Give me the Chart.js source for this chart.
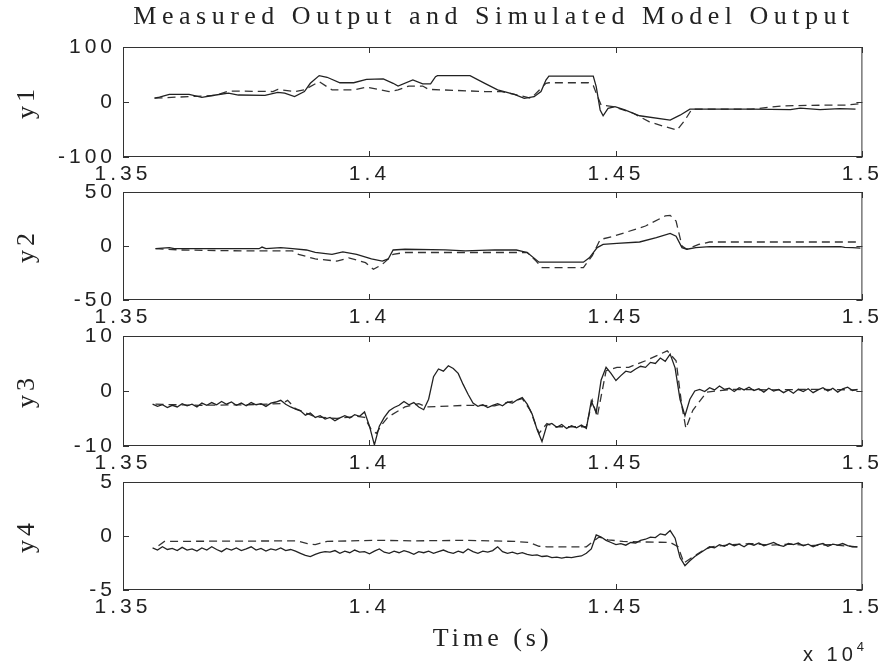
<!DOCTYPE html>
<html>
<head>
<meta charset="utf-8">
<script src="https://cdn.jsdelivr.net/npm/chart.js@4.4.0/dist/chart.umd.min.js"></script>
<style>
  html, body { margin: 0; padding: 0; background: #fff; }
  #wrap { position: relative; width: 890px; height: 668px; overflow: hidden; }
  #wrap canvas { position: absolute; left: 0; }
  #title { position: absolute; left: 494px; top: 1px; transform: translateX(-50%); white-space: nowrap;
           font-family: "Liberation Serif", serif; font-size: 26px; letter-spacing: 5.5px; color: #222; }
  #mult { position: absolute; left: 803px; top: 641px; white-space: nowrap;
          font-family: "Liberation Sans", sans-serif; font-size: 20px; letter-spacing: 4px; color: #222; }
  #mult sup { font-size: 13px; position: relative; top: -2px; }
</style>
</head>
<body>
<div id="wrap">
  <canvas id="c1" width="890" height="170" style="top:17px"></canvas>
  <canvas id="c2" width="890" height="168" style="top:162px"></canvas>
  <canvas id="c3" width="890" height="170" style="top:306px"></canvas>
  <canvas id="c4" width="890" height="216" style="top:452px"></canvas>
  <div id="title">Measured Output and Simulated Model Output</div>
  <div id="mult">x 10<sup>4</sup></div>
</div>
<script>
// time axis is seconds; tick labels are shown in units of 1e4 s
const xTicks = [13500, 14000, 14500, 15000];

// y1
const y1MeasT = [13564, 13574, 13594, 13634, 13660, 13688, 13714, 13734, 13788, 13814, 13828, 13848, 13868, 13880,
  13898, 13914, 13940, 13968, 13994, 14028, 14048, 14058, 14088, 14108, 14124, 14134, 14138, 14204, 14234, 14260,
  14294, 14314, 14334, 14348, 14358, 14364, 14454, 14460, 14468, 14474, 14484, 14498, 14518, 14548, 14610, 14630,
  14650, 14774, 14854, 14874, 14914, 14954, 14986];
const y1Meas = [7, 9, 14, 14, 8.5, 12.7, 16, 12.7, 12, 17.6, 16, 9.7, 19, 34,
  48, 45, 35, 35, 41, 42, 34, 29, 40, 33, 33, 46, 48, 48, 34, 22,
  14, 6.7, 9.7, 19, 40, 47, 47, 28, -14.5, -25, -11.5, -8.5, -14.5, -25, -33, -24,
  -13, -13, -14, -11, -14, -12, -13];
const y1SimT = [13564, 13688, 13714, 13804, 13814, 13848, 13868, 13898, 13924, 13968, 13994, 14040, 14058, 14080,
  14108, 14120, 14234, 14268, 14294, 14328, 14358, 14364, 14444, 14454, 14460, 14470, 14494, 14534, 14568, 14600,
  14624, 14640, 14654, 14774, 14840, 14894, 14968, 14996];
const y1Sim = [7, 12, 20, 19, 23, 19, 22, 37, 22, 22, 27, 19, 22, 29,
  29, 23, 19, 19, 14, 6.7, 34, 35, 35, 30, 16, -5.5, -8.5, -20, -36, -45,
  -51, -33, -13, -13, -7, -6, -5.5, -3];

// y2
const y2MeasT = [13566, 13594, 13604, 13776, 13782, 13790, 13820, 13844, 13872, 13890, 13924, 13946, 13974, 14004,
  14026, 14038, 14048, 14072, 14154, 14194, 14254, 14298, 14320, 14344, 14434, 14446, 14462, 14474, 14502, 14548,
  14582, 14610, 14622, 14634, 14644, 14662, 14690, 14854, 14956, 14964, 14980, 14996];
const y2Meas = [-2.5, -1.5, -2.5, -2.5, -1, -2.5, -1.5, -2.5, -3.7, -6, -7.7, -5.5, -7.7, -12,
  -14, -12, -3.7, -3, -3.5, -4.5, -3.5, -3.7, -6, -15, -15, -11, -1.5, 1.5, 2.5, 3.7,
  7.7, 11.7, 9, -1.5, -3, -1.5, -0.6, -0.8, -0.6, -1.2, -1.5, -2];
const y2SimT = [13566, 13618, 13754, 13844, 13856, 13890, 13934, 13958, 13992, 14008, 14026, 14048, 14072, 14320,
  14338, 14350, 14434, 14452, 14468, 14492, 14560, 14600, 14610, 14622, 14634, 14644, 14668, 14690, 14996];
const y2Sim = [-2.5, -3.7, -4.6, -4.6, -7.7, -12, -14, -11, -15.4, -21.6, -17, -7.7, -6, -6,
  -14, -20, -20, -9, 6, 8.6, 18.5, 27.8, 28.4, 23, 0, -3, 1.5, 3.7, 3.7];

// y3 and y4 measured, sampled every 10 s from 13560 s to 14990 s
const denseT = [];
for (let t = 13560; t <= 14990; t += 10) denseT.push(t);

const y3Meas = [-2.4, -2.8, -2.5, -3.0, -2.6, -2.9, -2.3, -2.7, -2.4, -2.9,
  -2.2, -2.6, -2.1, -2.5, -1.9, -2.4, -2.0, -2.6, -2.2, -2.7,
  -2.1, -2.5, -2.3, -2.8, -2.2, -2.0, -1.7, -2.4, -2.9, -3.3,
  -3.6, -4.4, -4.0, -4.8, -4.5, -5.1, -4.8, -5.4, -4.9, -4.5,
  -4.9, -4.3, -4.6, -3.8, -6.4, -9.8, -6.4, -4.8, -3.6, -3.0,
  -2.6, -1.9, -2.5, -2.1, -2.9, -3.4, -1.5, 2.6, 4.0, 3.6,
  4.6, 4.1, 3.2, 1.2, -0.6, -2.2, -2.8, -2.5, -3.0, -2.6,
  -2.3, -2.7, -2.0, -2.2, -1.6, -1.2, -2.4, -4.2, -7.0, -9.2,
  -6.2, -5.9, -6.6, -6.1, -6.8, -6.3, -6.7, -6.2, -6.8, -1.8,
  -3.9, 2.0, 4.3, 3.2, 1.9, 2.8, 3.6, 3.4, 4.0, 4.5,
  4.3, 5.2, 5.0, 6.0, 5.4, 6.7, 4.2, -1.5, -4.5, -1.5,
  0.0, 0.3, -0.1, 0.6, 0.2, 0.9, 0.3, 0.5, -0.1, 0.6,
  0.2, 0.7, 0.1, 0.4, -0.2, 0.5, 0.0, 0.3, -0.3, 0.2,
  -0.4, 0.3, -0.1, 0.4, -0.3, 0.2, 0.6, 0.0, 0.5, -0.2,
  0.4, 0.7, 0.1, 0.3];
const y3SimT = [13566, 13654, 13754, 13822, 13834, 13850, 13890, 13934, 13974, 13990, 14004, 14014, 14026, 14038,
  14072, 14100, 14116, 14196, 14214, 14254, 14310, 14326, 14344, 14360, 14374, 14440, 14452, 14462, 14480, 14502,
  14526, 14560, 14604, 14622, 14634, 14642, 14656, 14684, 14734, 14814, 14894, 14990];
const y3Sim = [-2.4, -2.6, -2.5, -2.3, -1.7, -3.2, -4.7, -5.0, -4.6, -4.8, -7.1, -7.7, -6.0, -4.7,
  -2.9, -2.3, -2.9, -2.6, -2.6, -2.7, -1.4, -3.5, -7.7, -5.9, -6.5, -6.5, -1.7, -4.7, 3.7, 4.3,
  4.3, 5.5, 7.3, 5.5, -2.9, -6.8, -3.5, -0.2, 0.3, 0.2, 0.3, 0.2];

const y4Meas = [-1.1, -1.3, -1.0, -1.25, -1.15, -1.35, -1.05, -1.3, -1.2, -1.4,
  -1.1, -1.3, -1.0, -1.25, -1.45, -1.15, -1.3, -1.1, -1.35, -1.2,
  -1.0, -1.3, -1.15, -1.4, -1.2, -1.3, -1.1, -1.35, -1.25,
  -1.4, -1.6, -1.8, -1.9, -1.7, -1.55, -1.45,
  -1.5, -1.35, -1.6, -1.4, -1.55, -1.3, -1.5, -1.45, -1.65, -1.4,
  -1.2, -1.5, -1.6, -1.4, -1.55, -1.35, -1.5, -1.7, -1.45, -1.55,
  -1.4, -1.6, -1.45, -1.3, -1.5, -1.6, -1.4, -1.55, -1.2, -1.45,
  -1.6, -1.4, -1.5, -1.35, -1.0, -1.45, -1.6, -1.5, -1.65, -1.55,
  -1.7, -1.8, -1.75, -1.9, -1.85, -2.0, -1.95, -2.05, -1.95, -2.0, -1.9, -1.85, -1.6,
  -1.2, 0.1, -0.1, -0.4, -0.6, -0.8, -0.7, -0.85, -0.6, -0.65, -0.4, -0.3, -0.1,
  -0.15, 0.2, 0.1, 0.5, -0.2, -2.0, -2.75, -2.3, -1.9, -1.6, -1.3, -1.0, -1.1,
  -0.8, -0.95, -0.7, -0.9, -0.75, -1.0, -0.7, -0.85, -0.65, -0.9,
  -0.75, -0.6, -0.85, -0.95, -0.7, -0.8, -0.65, -0.9, -0.75, -1.0,
  -0.8, -0.7, -0.95, -0.75, -0.85, -0.7, -0.9, -1.0, -1.0];
const y4SimT = [13572, 13584, 13854, 13874, 13890, 13914, 14014, 14094, 14194, 14294, 14324, 14344, 14360, 14440,
  14454, 14466, 14484, 14514, 14554, 14610, 14626, 14638, 14654, 14678, 14694, 14734, 14774, 14814, 14854, 14894,
  14934, 14974, 14990];
const y4Sim = [-0.9, -0.5, -0.45, -0.7, -0.8, -0.5, -0.4, -0.45, -0.4, -0.5, -0.6, -0.95, -1.0, -1.0,
  -0.5, -0.1, -0.35, -0.5, -0.55, -0.6, -1.0, -2.5, -2.0, -1.3, -1.0, -0.8, -0.7, -0.85, -0.75, -0.9,
  -0.8, -0.95, -1.0];

const ink = '#222';
const tickFont = { family: '"Liberation Sans", Arial, sans-serif', size: 21, lineHeight: 1 };
const labelFont = { family: '"Liberation Serif", "Times New Roman", serif', size: 26, lineHeight: 1.2 };

// MATLAB-like look: letter spaced text
const spacing = {
  id: 'spacing',
  beforeLayout(chart) { chart.ctx.letterSpacing = '4px'; },
  beforeDraw(chart) { chart.ctx.letterSpacing = '4px'; }
};

// box around the axes with inward tick marks on all four sides
const frame = {
  id: 'frame',
  afterDatasetsDraw(chart) {
    const { ctx, chartArea: a, scales: { x, y } } = chart;
    const len = 6;
    ctx.save();
    ctx.strokeStyle = '#333';
    ctx.lineWidth = 1;
    ctx.strokeRect(a.left + 0.5, a.top + 0.5, a.width - 1, a.height - 1);
    ctx.beginPath();
    x.ticks.forEach(t => {
      const px = Math.round(x.getPixelForValue(t.value)) + 0.5;
      ctx.moveTo(px, a.bottom); ctx.lineTo(px, a.bottom - len);
      ctx.moveTo(px, a.top); ctx.lineTo(px, a.top + len);
    });
    y.ticks.forEach(t => {
      const py = Math.round(y.getPixelForValue(t.value)) + 0.5;
      ctx.moveTo(a.left, py); ctx.lineTo(a.left + len, py);
      ctx.moveTo(a.right, py); ctx.lineTo(a.right - len, py);
    });
    ctx.stroke();
    ctx.restore();
  }
};

function pts(ts, vs) {
  return ts.map((t, i) => ({ x: t, y: vs[i] }));
}

function panel(id, label, lim, measT, meas, simT, sim, xh, xTitle) {
  new Chart(document.getElementById(id), {
    type: 'line',
    data: {
      datasets: [
        { label: 'Measured', data: pts(measT, meas), borderColor: ink, borderWidth: 1.3,
          pointRadius: 0, tension: 0 },
        { label: 'Simulated', data: pts(simT, sim), borderColor: '#333', borderWidth: 1.3,
          borderDash: [8, 5], pointRadius: 0, tension: 0 }
      ]
    },
    options: {
      responsive: false,
      animation: false,
      events: [],
      layout: { padding: { top: 30, right: 17, left: 0, bottom: 0 } },
      plugins: { legend: { display: false }, tooltip: { enabled: false } },
      scales: {
        x: {
          type: 'linear', min: xTicks[0], max: xTicks[xTicks.length - 1],
          grid: { display: false, drawTicks: false }, border: { display: false },
          afterBuildTicks: s => { s.ticks = xTicks.map(v => ({ value: v })); },
          ticks: { autoSkip: false, maxRotation: 0, padding: 7, color: ink, font: tickFont,
                   callback: v => String(v / 10000) },
          title: { display: !!xTitle, text: xTitle || '', color: ink, font: labelFont,
                   padding: { top: 0, bottom: 13 } },
          afterFit: s => { s.height = xh; }
        },
        y: {
          min: -lim, max: lim,
          grid: { display: false, drawTicks: false }, border: { display: false },
          ticks: { stepSize: lim, padding: 7, color: ink, font: tickFont },
          title: { display: true, text: label, color: ink, font: labelFont,
                   padding: { top: 12, bottom: 0 } },
          afterFit: s => { s.width = 123; }
        }
      }
    },
    plugins: [spacing, frame]
  });
}

panel('c1', 'y1', 100, y1MeasT, y1Meas, y1SimT, y1Sim, 30);
panel('c2', 'y2', 50, y2MeasT, y2Meas, y2SimT, y2Sim, 30);
panel('c3', 'y3', 10, denseT, y3Meas, y3SimT, y3Sim, 30);
panel('c4', 'y4', 5, denseT, y4Meas, y4SimT, y4Sim, 78, 'Time (s)');
</script>
</body>
</html>
